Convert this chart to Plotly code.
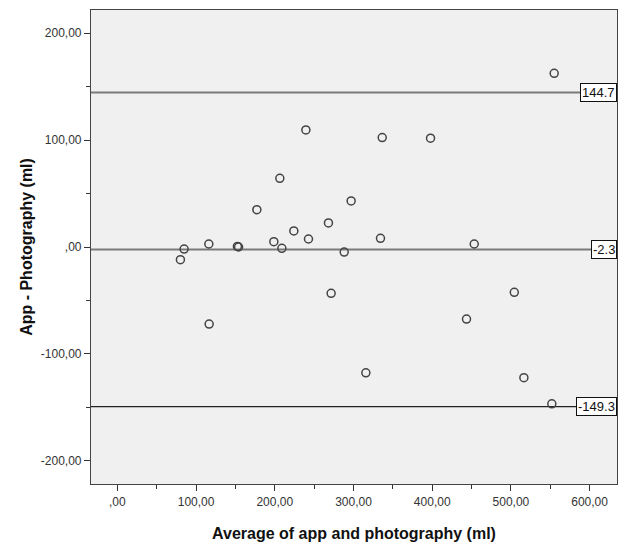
import plotly.graph_objects as go

# Data (Bland-Altman plot)
avg_ml = [555, 84.8, 80.1, 116.2, 152.5, 154.0, 177.2, 206.4, 198.8, 209.0, 224.2, 242.8,
          116.6, 239.5, 336.5, 397.9, 297.0, 268.2, 288.2, 334.3, 453.4, 271.6, 504.3,
          443.6, 315.7, 516.5, 552.0]
diff_ml = [162.5, -1.9, -11.9, 2.8, 0.5, 0.0, 34.9, 64.3, 5.0, -1.2, 15.0, 7.5,
           -72.1, 109.6, 102.4, 101.8, 43.1, 22.5, -4.7, 8.1, 2.8, -43.4, -42.4,
           -67.4, -117.7, -122.3, -146.8]

ref_values = [144.7, -2.3, -149.3]
ref_labels = ["144.7", "-2.3", "-149.3"]
ref_colors = ["#7a7a7a", "#7a7a7a", "#222222"]
ref_widths = [2, 2, 1.2]

x_tickvals = [0, 100, 200, 300, 400, 500, 600]
x_ticktext = [",00", "100,00", "200,00", "300,00", "400,00", "500,00", "600,00"]
x_minor = [-50, 50, 150, 250, 350, 450, 550]
y_tickvals = [-200, -100, 0, 100, 200]
y_ticktext = ["-200,00", "-100,00", ",00", "100,00", "200,00"]
y_minor = [-150, -50, 50, 150]

x_range = [-33.5, 634.8]
y_range = [-221.8, 221.8]

fig = go.Figure()

for v, lab, c, w in zip(ref_values, ref_labels, ref_colors, ref_widths):
    fig.add_shape(type="line", xref="paper", yref="y", x0=0, x1=1, y0=v, y1=v,
                  line=dict(color=c, width=w), layer="below")
    fig.add_annotation(xref="paper", yref="y", x=1, y=v, text=lab, showarrow=False,
                       xanchor="right", yanchor="middle",
                       font=dict(family="Liberation Sans, Arial", size=13, color="#111"),
                       bgcolor="white", bordercolor="#111", borderwidth=1, borderpad=1)

fig.add_trace(go.Scatter(
    x=avg_ml, y=diff_ml, mode="markers",
    marker=dict(symbol="circle-open", size=8, color="#444444", line=dict(width=1.5, color="#444444")),
    showlegend=False, cliponaxis=False,
))

axis_font = dict(family="Liberation Sans, Arial", size=12, color="#333333")
title_font = dict(family="Liberation Sans, Arial", size=16, color="#111111")

fig.update_xaxes(
    range=x_range, tickmode="array", tickvals=x_tickvals, ticktext=x_ticktext,
    ticks="outside", ticklen=6, tickwidth=1.2, tickcolor="#333",
    minor=dict(tickmode="array", tickvals=x_minor, ticks="outside", ticklen=4, tickcolor="#333"),
    showgrid=False, zeroline=False, showline=True, linecolor="#444", linewidth=1.2, mirror=True,
    tickfont=axis_font, automargin=False,
    title=dict(text="<b>Average of app and photography (ml)</b>", font=title_font, standoff=20),
)
fig.update_yaxes(
    range=y_range, tickmode="array", tickvals=y_tickvals, ticktext=y_ticktext,
    ticks="outside", ticklen=6, tickwidth=1.2, tickcolor="#333",
    minor=dict(tickmode="array", tickvals=y_minor, ticks="outside", ticklen=4, tickcolor="#333"),
    showgrid=False, zeroline=False, showline=True, linecolor="#444", linewidth=1.2, mirror=True,
    tickfont=axis_font, automargin=False,
    title=dict(text="<b>App - Photography (ml)</b>", font=title_font, standoff=4),
)

fig.update_layout(
    width=627, height=544,
    margin=dict(l=91, r=10, t=10, b=60),
    plot_bgcolor="#f0f0f0", paper_bgcolor="white",
)

fig.write_html("out.html")
